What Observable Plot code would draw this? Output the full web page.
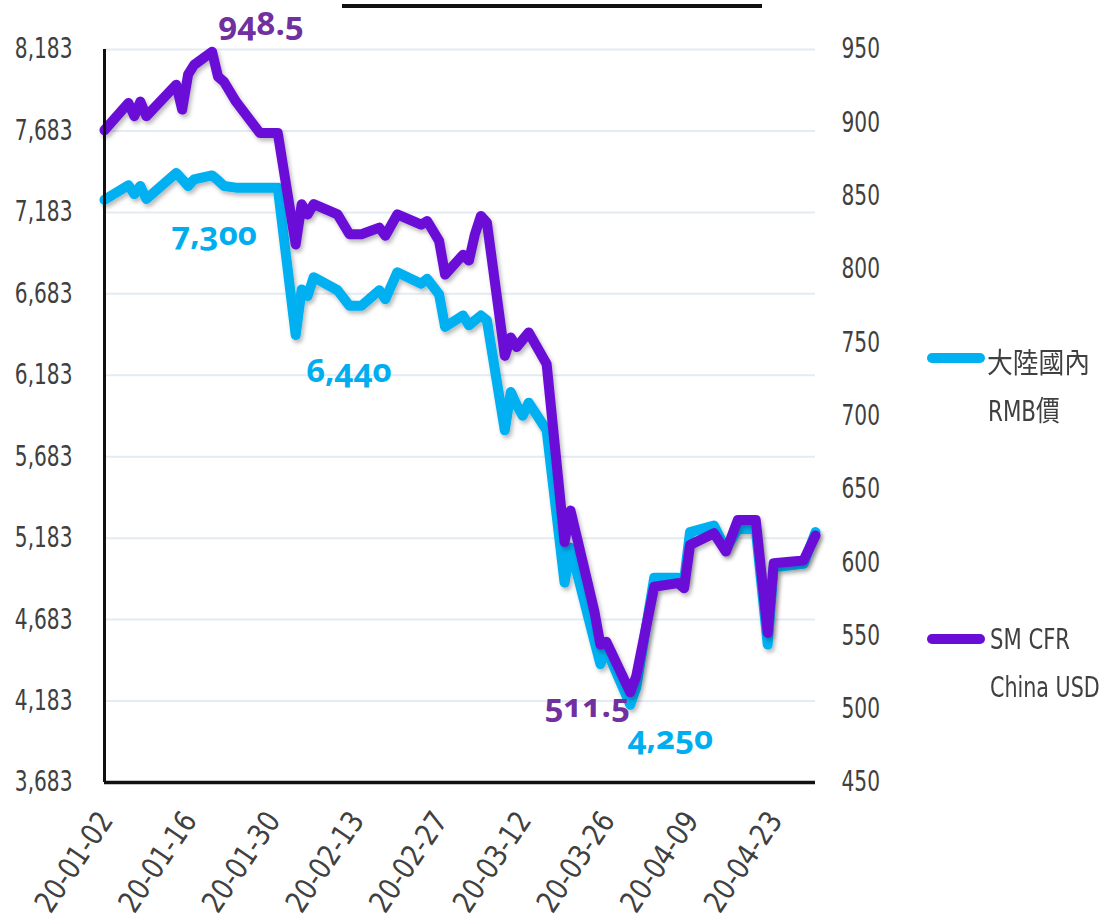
<!DOCTYPE html>
<html>
<head>
<meta charset="utf-8">
<script src="https://cdn.jsdelivr.net/npm/d3@7"></script>
<script src="https://cdn.jsdelivr.net/npm/@observablehq/plot@0.6"></script>
<style>
  html, body { margin: 0; padding: 0; background: #fff; }
  #wrap { position: relative; width: 1104px; height: 921px; overflow: hidden; background: #fff; }
  #chart { position: absolute; left: 0; top: 0; }
  .topline { position: absolute; left: 342px; top: 4px; width: 420px; height: 4px; background: #111; }
  .leg { position: absolute; font-family: "DejaVu Sans Condensed", "Liberation Sans", sans-serif; font-size: 28px; color: #404040;
         line-height: 32px; white-space: nowrap; transform-origin: 0 50%; }
  .cjk { font-family: "Noto Sans CJK TC", sans-serif; }
  .sw { position: absolute; width: 58px; height: 10px; border-radius: 5px; }
</style>
</head>
<body>
<div id="wrap">
  <div id="chart"></div>
  <div class="topline"></div>
  <div class="sw" style="left:927px; top:353px; background:#00B0F0;"></div>
  <div class="leg cjk" style="left:987px; top:345px; transform:scaleX(0.92);">大陸國內</div>
  <div class="leg" style="left:988px; top:393px; transform:scaleX(0.85);">RMB<span class="cjk">價</span></div>
  <div class="sw" style="left:927px; top:634px; background:#6A0DD6;"></div>
  <div class="leg" style="left:990px; top:624px; transform:scaleX(0.84);">SM CFR</div>
  <div class="leg" style="left:990px; top:672px; transform:scaleX(0.82);">China USD</div>
</div>
<script>
// ---- data ----
const dates = ["2020-01-02","2020-01-06","2020-01-07","2020-01-08","2020-01-09","2020-01-14","2020-01-15","2020-01-16","2020-01-17","2020-01-20",
  "2020-01-21","2020-01-22","2020-01-24","2020-01-28","2020-01-31","2020-02-03","2020-02-04","2020-02-05","2020-02-06","2020-02-10",
  "2020-02-12","2020-02-14","2020-02-17","2020-02-18","2020-02-20","2020-02-24","2020-02-25","2020-02-27","2020-02-28","2020-03-02",
  "2020-03-03","2020-03-04","2020-03-05","2020-03-06","2020-03-09","2020-03-10","2020-03-11","2020-03-12","2020-03-13","2020-03-16",
  "2020-03-19","2020-03-20","2020-03-23","2020-03-24","2020-03-25","2020-03-26","2020-03-30","2020-03-31","2020-04-03","2020-04-07",
  "2020-04-08","2020-04-09","2020-04-13","2020-04-15","2020-04-17","2020-04-20","2020-04-22","2020-04-23","2020-04-28","2020-04-30"];
const rmb = [7260,7350,7295,7345,7265,7425,7385,7345,7385,7410,
  7380,7345,7335,7335,7335,6430,6710,6670,6785,6705,
  6610,6610,6705,6650,6815,6745,6775,6680,6480,6550,
  6490,6520,6550,6520,5845,6080,6000,5935,6015,5845,
  4910,5125,4695,4550,4410,4500,4160,4265,4940,4940,
  4920,5220,5260,5115,5240,5240,4530,5005,5025,5220];
const usd = [895,913.5,904.5,914.5,904.5,926,909,933,939.5,948.5,
  931.5,928,914.5,893,893,817,844.5,837.5,844.5,837.5,
  824,824,828.5,823,837.5,830.5,833,819.5,796.5,810,
  806,824,836.5,832,741,753.5,747,752,757,735.5,
  614,635.5,584,566.5,544,546,511.5,522.5,583.5,586,
  582.5,612,620,607.5,629,629,552,599.5,601.5,618.5];
const leftTicks = [3683,4183,4683,5183,5683,6183,6683,7183,7683,8183];
const rightTicks = [450,500,550,600,650,700,750,800,850,900,950];
const xTickDates = ["2020-01-02","2020-01-16","2020-01-30","2020-02-13","2020-02-27","2020-03-12","2020-03-26","2020-04-09","2020-04-23"];
const seriesNames = ["大陸國內 RMB價", "SM CFR China USD"];
const annotLabels = ["948.5", "7,300", "6,440", "511.5", "4,250"];
const annotDates = ["2020-01-20", "2020-01-24", "2020-02-03", "2020-03-30", "2020-03-30"];

// ---- build ----
const rows = dates.map((d, i) => ({date: new Date(d), rmb: rmb[i], usd: usd[i]}));
const toLeft = u => 3683 + (u - 450) * 9;
const fromLeft = v => Math.round((v - 3683) / 9 + 450);
const at = s => rows.filter(r => +r.date === +new Date(s));

const font = `"DejaVu Sans Condensed", "Liberation Sans", sans-serif`;
const annFont = `"Open Sans", "Lato", sans-serif`;
const blue = "#00B0F0", purple = "#6A0DD6";
const blueTxt = "#00AEEF", purpleTxt = "#7030A0";

const chart = Plot.plot({
  width: 1104,
  height: 921,
  marginLeft: 104,
  marginRight: 289,
  marginTop: 49,
  marginBottom: 139,
  style: {fontFamily: font, fontSize: "28px", color: "#404040", background: "transparent"},
  x: {type: "utc", domain: [new Date("2020-01-02"), new Date("2020-04-30")]},
  y: {domain: [3683, 8183]},
  marks: [
    Plot.ruleY(leftTicks, {stroke: "#E4EBF5", strokeWidth: 2}),
    Plot.axisY(leftTicks, {anchor: "left", label: null, tickSize: 0, tickPadding: 32, tickFormat: d3.format(","), fontSize: 28, fill: "#404040"}),
    Plot.axisY(rightTicks.map(toLeft), {anchor: "right", label: null, tickSize: 0, tickPadding: 26, tickFormat: fromLeft, fontSize: 28, fill: "#404040"}),
    Plot.axisX(xTickDates.map(d => new Date(d)), {anchor: "bottom", label: null, tickSize: 0, tickPadding: 26, tickRotate: -56,
      textAnchor: "end", lineAnchor: "top", dx: -8, tickFormat: d3.utcFormat("%y-%m-%d"), fontSize: 30, fill: "#404040"}),
    Plot.lineY(rows, {x: "date", y: "rmb", stroke: blue, strokeWidth: 10, strokeLinejoin: "round", strokeLinecap: "round", title: () => seriesNames[0]}),
    Plot.lineY(rows, {x: "date", y: d => toLeft(d.usd), stroke: purple, strokeWidth: 10, strokeLinejoin: "round", strokeLinecap: "round", title: () => seriesNames[1]}),
    Plot.ruleX([new Date("2020-01-02")], {stroke: "#111", strokeWidth: 3}),
    Plot.ruleY([3683], {stroke: "#111", strokeWidth: 3.5}),
    // annotations, anchored to data points
    Plot.text(at(annotDates[0]), {x: "date", y: d => toLeft(d.usd), text: () => annotLabels[0], dx: 49, dy: -27, fill: purpleTxt, fontFamily: annFont, fontWeight: 700, fontSize: 33}),
    Plot.text(at(annotDates[1]), {x: "date", y: "rmb", text: () => annotLabels[1], dx: -22, dy: 47, fill: blueTxt, fontFamily: annFont, fontWeight: 700, fontSize: 33}),
    Plot.text(at(annotDates[2]), {x: "date", y: "rmb", text: () => annotLabels[2], dx: 53, dy: 36, fill: blueTxt, fontFamily: annFont, fontWeight: 700, fontSize: 33}),
    Plot.text(at(annotDates[3]), {x: "date", y: d => toLeft(d.usd), text: () => annotLabels[3], dx: -43, dy: 14, fill: purpleTxt, fontFamily: annFont, fontWeight: 700, fontSize: 33}),
    Plot.text(at(annotDates[4]), {x: "date", y: "rmb", text: () => annotLabels[4], dx: 40, dy: 34, fill: blueTxt, fontFamily: annFont, fontWeight: 700, fontSize: 33})
  ]
});

// subtle drop shadow on the lines
const ns = "http://www.w3.org/2000/svg";
const defs = document.createElementNS(ns, "defs");
defs.innerHTML = `<filter id="lshadow" x="-5%" y="-5%" width="110%" height="115%"><feDropShadow dx="2" dy="3" stdDeviation="2" flood-color="#000" flood-opacity="0.28"/></filter>`;
chart.insertBefore(defs, chart.firstChild);
chart.querySelectorAll('g[aria-label="line"]').forEach(g => g.setAttribute("filter", "url(#lshadow)"));
chart.querySelectorAll('text').forEach(t => { if (/948|511|7,300|6,440|4,250/.test(t.textContent)) t.style.fontFeatureSettings = '"onum"'; });

// narrow the axis tick labels horizontally (the reference uses a condensed face)
function squeeze(sel, s) {
  chart.querySelectorAll(sel).forEach(t => {
    const tr = t.getAttribute("transform");
    if (tr) { t.setAttribute("transform", tr + ` scale(${s},1)`); }
    else {
      const x = +(t.getAttribute("x") || 0);
      t.setAttribute("transform", `translate(${x * (1 - s)},0) scale(${s},1)`);
    }
  });
}
squeeze('g[aria-label="y-axis tick label"] text', 0.8);
squeeze('g[aria-label="x-axis tick label"] text', 0.93);

document.getElementById("chart").appendChild(chart);
</script>
</body>
</html>
